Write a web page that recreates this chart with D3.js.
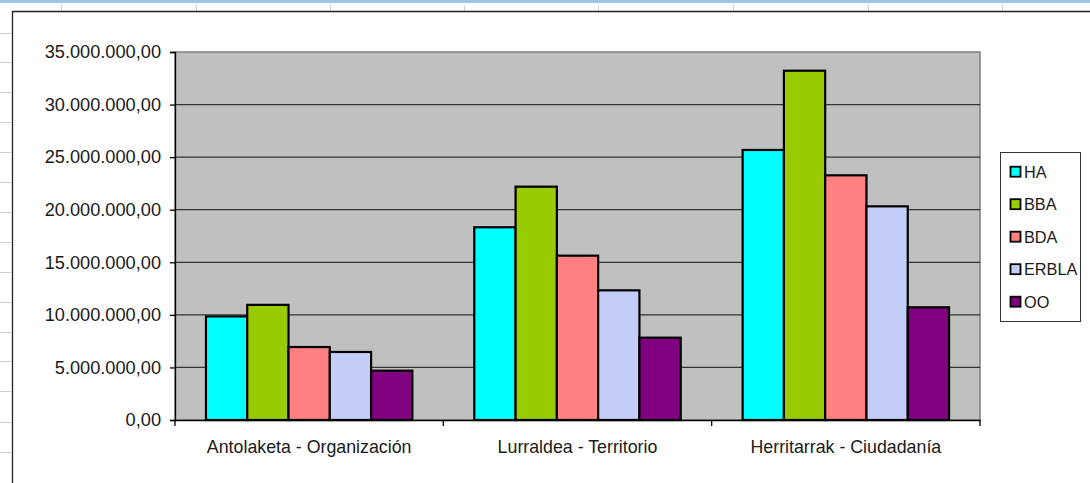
<!DOCTYPE html>
<html><head><meta charset="utf-8">
<script src="https://cdn.jsdelivr.net/npm/d3@7/dist/d3.min.js"></script>
<style>
html,body{margin:0;padding:0;background:#fff;}
svg{display:block;font-family:"Liberation Sans",Arial,sans-serif;}
</style></head>
<body>
<svg id="c" width="1090" height="483"></svg>
<script>
const categories = ["Antolaketa - Organización", "Lurraldea - Territorio", "Herritarrak - Ciudadanía"];
const seriesNames = ["HA", "BBA", "BDA", "ERBLA", "OO"];
const HA    = [9850000, 18330000, 25680000];
const BBA   = [10950000, 22190000, 33220000];
const BDA   = [6940000, 15630000, 23270000];
const ERBLA = [6470000, 12330000, 20320000];
const OO    = [4690000, 7830000, 10720000];
const yTicks = [0, 5000000, 10000000, 15000000, 20000000, 25000000, 30000000, 35000000];
const colors = ["#00FFFF", "#99CC00", "#FF8080", "#C3CDF7", "#800080"];
const seriesValues = [HA, BBA, BDA, ERBLA, OO];

const svg = d3.select("#c");

// spreadsheet background remnants
svg.append("rect").attr("x",0).attr("y",0).attr("width",1090).attr("height",3).attr("fill","#9DC3E6");
[61,196,330,464,598,733,868,1002].forEach(x=>{
  svg.append("line").attr("x1",x+0.5).attr("x2",x+0.5).attr("y1",5).attr("y2",11).attr("stroke","#d0d0d0");
});
[33,62,92,122,152,182,212,242,272,302,332,361,391,422,452].forEach(y=>{
  svg.append("line").attr("x1",0).attr("x2",11).attr("y1",y+0.5).attr("y2",y+0.5).attr("stroke","#d0d0d0");
});
// chart area border
svg.append("line").attr("x1",12).attr("x2",1090).attr("y1",11.5).attr("y2",11.5).attr("stroke","#222").attr("stroke-width",1.3);
svg.append("line").attr("x1",12.5).attr("x2",12.5).attr("y1",11).attr("y2",483).attr("stroke","#222").attr("stroke-width",1.3);

const plot = {left:175, top:52, right:980, bottom:420};
const x = d3.scaleBand().domain(categories).range([plot.left, plot.right]).padding(0);
const W = x.bandwidth();
const bw = W/6.5;
const xs = d3.scaleBand().domain(seriesNames).range([0.75*bw, W-0.75*bw]).padding(0);
const y = d3.scaleLinear().domain([0, 35000000]).range([plot.bottom, plot.top]);

const loc = d3.formatLocale({decimal:",", thousands:".", grouping:[3], currency:["","€"]});
const fmt = loc.format(",.2f");

// plot background
svg.append("rect").attr("x",plot.left).attr("y",plot.top).attr("width",plot.right-plot.left).attr("height",plot.bottom-plot.top)
  .attr("fill","#C0C0C0").attr("stroke","#808080").attr("stroke-width",1.5);

// gridlines
svg.append("g").selectAll("line").data(yTicks.filter(d=>d>0 && d<35000000)).join("line")
  .attr("x1",plot.left).attr("x2",plot.right).attr("y1",d=>y(d)).attr("y2",d=>y(d))
  .attr("stroke","#333").attr("stroke-width",1.2);

// bars
const groups = svg.append("g").selectAll("g").data(categories).join("g")
  .attr("transform",d=>`translate(${x(d)},0)`);
groups.selectAll("rect").data((c,i)=>seriesNames.map((s,j)=>({s, v:seriesValues[j][i], c:colors[j]}))).join("rect")
  .attr("x",d=>xs(d.s)).attr("width",xs.bandwidth())
  .attr("y",d=>y(d.v)).attr("height",d=>y(0)-y(d.v))
  .attr("fill",d=>d.c).attr("stroke","#000").attr("stroke-width",2.2);

// y axis
const yAxis = d3.axisLeft(y).tickValues(yTicks).tickFormat(fmt).tickSize(5).tickPadding(9);
const gy = svg.append("g").attr("transform",`translate(${plot.left},0)`).call(yAxis);
gy.select(".domain").attr("stroke","#000").attr("stroke-width",1.3);
gy.selectAll(".tick line").attr("stroke","#000").attr("stroke-width",1.3);
gy.selectAll("text").attr("font-size","18.2px").attr("fill","#1a1a1a").attr("font-family","Liberation Sans, Arial, sans-serif");

// x axis
const xAxis = d3.axisBottom(x).tickSize(0).tickPadding(20);
const gx = svg.append("g").attr("transform",`translate(0,${plot.bottom})`).call(xAxis);
gx.select(".domain").attr("stroke","#000").attr("stroke-width",1.3);
gx.selectAll("text").attr("font-size","17.8px").attr("fill","#1a1a1a").attr("font-family","Liberation Sans, Arial, sans-serif");
const bounds = categories.map(c=>x(c)).concat([x(categories[categories.length-1])+W]);
gx.selectAll(".sep").data(bounds).join("line").attr("class","sep")
  .attr("x1",d=>d).attr("x2",d=>d).attr("y1",0).attr("y2",6).attr("stroke","#000").attr("stroke-width",1.3);

// legend
const lg = svg.append("g");
lg.append("rect").attr("x",1000.5).attr("y",152.5).attr("width",80).attr("height",169)
  .attr("fill","#fff").attr("stroke","#333").attr("stroke-width",1);
const items = lg.selectAll("g.item").data(seriesNames).join("g").attr("class","item")
  .attr("transform",(d,i)=>`translate(1010,${171.7+i*32.5})`);
items.append("rect").attr("x",0.5).attr("y",-5).attr("width",10).attr("height",10)
  .attr("fill",(d,i)=>colors[i]).attr("stroke","#000").attr("stroke-width",1.8);
items.append("text").attr("x",14).attr("y",0).attr("dy","0.36em").attr("font-size","16.3px").attr("fill","#1a1a1a").text(d=>d);
</script>
</body></html>
